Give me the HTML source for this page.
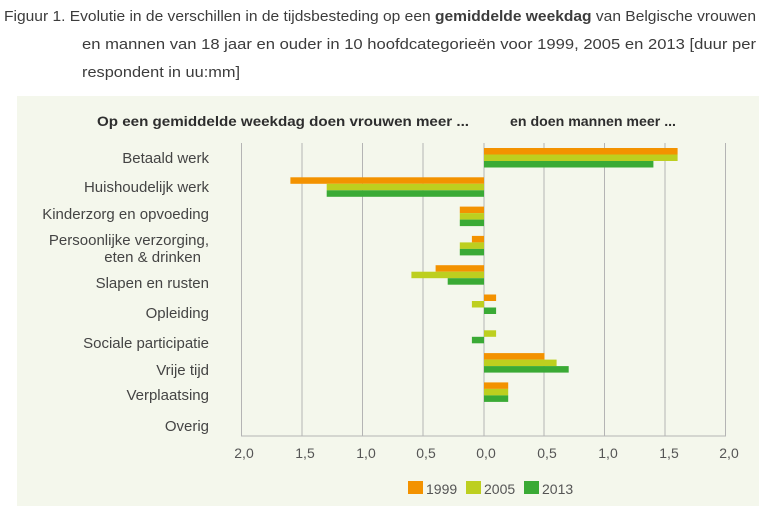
<!DOCTYPE html>
<html><head><meta charset="utf-8"><style>
html,body{margin:0;padding:0;background:#fff;width:776px;height:518px;overflow:hidden}
svg{display:block}
text{font-family:"Liberation Sans Narrow","Liberation Sans",sans-serif}
</style></head><body>
<svg width="776" height="518" viewBox="0 0 776 518">
<g fill="#3c3c3c" font-size="14.5">
<text x="4" y="21" textLength="752" lengthAdjust="spacingAndGlyphs">Figuur 1. Evolutie in de verschillen in de tijdsbesteding op een <tspan font-weight="bold">gemiddelde weekdag</tspan> van Belgische vrouwen</text>
<text x="82" y="49" textLength="674" lengthAdjust="spacingAndGlyphs">en mannen van 18 jaar en ouder in 10 hoofdcategorieën voor 1999, 2005 en 2013 [duur per</text>
<text x="82" y="77" textLength="158" lengthAdjust="spacingAndGlyphs">respondent in uu:mm]</text>
</g>
<rect x="17" y="96" width="742" height="410" fill="#f4f7ec"/>
<g fill="#2e2e2e" font-size="14" font-weight="bold">
<text x="97" y="126" textLength="372" lengthAdjust="spacingAndGlyphs">Op een gemiddelde weekdag doen vrouwen meer ...</text>
<text x="510" y="126" textLength="166" lengthAdjust="spacingAndGlyphs">en doen mannen meer ...</text>
</g>
<g stroke="#b4b4b4" stroke-width="1">
<line x1="241.5" y1="143" x2="241.5" y2="436"/><line x1="302" y1="143" x2="302" y2="436"/><line x1="362.5" y1="143" x2="362.5" y2="436"/><line x1="423" y1="143" x2="423" y2="436"/><line x1="544" y1="143" x2="544" y2="436"/><line x1="604.5" y1="143" x2="604.5" y2="436"/><line x1="665" y1="143" x2="665" y2="436"/><line x1="725.5" y1="143" x2="725.5" y2="436"/>
<line x1="241" y1="436" x2="726" y2="436"/>
<line x1="484" y1="143" x2="484" y2="436"/>
</g>
<g>
<rect x="484" y="148" width="193.6" height="6.5" fill="#f39200"/>
<rect x="484" y="154.5" width="193.6" height="6.5" fill="#bdcf1f"/>
<rect x="484" y="161" width="169.4" height="6.5" fill="#3aaa35"/>
<rect x="290.4" y="177.3" width="193.6" height="6.5" fill="#f39200"/>
<rect x="326.7" y="183.8" width="157.3" height="6.5" fill="#bdcf1f"/>
<rect x="326.7" y="190.3" width="157.3" height="6.5" fill="#3aaa35"/>
<rect x="459.8" y="206.6" width="24.2" height="6.5" fill="#f39200"/>
<rect x="459.8" y="213.1" width="24.2" height="6.5" fill="#bdcf1f"/>
<rect x="459.8" y="219.6" width="24.2" height="6.5" fill="#3aaa35"/>
<rect x="471.9" y="235.9" width="12.1" height="6.5" fill="#f39200"/>
<rect x="459.8" y="242.4" width="24.2" height="6.5" fill="#bdcf1f"/>
<rect x="459.8" y="248.9" width="24.2" height="6.5" fill="#3aaa35"/>
<rect x="435.6" y="265.2" width="48.4" height="6.5" fill="#f39200"/>
<rect x="411.4" y="271.7" width="72.6" height="6.5" fill="#bdcf1f"/>
<rect x="447.7" y="278.2" width="36.3" height="6.5" fill="#3aaa35"/>
<rect x="484" y="294.5" width="12.1" height="6.5" fill="#f39200"/>
<rect x="471.9" y="301" width="12.1" height="6.5" fill="#bdcf1f"/>
<rect x="484" y="307.5" width="12.1" height="6.5" fill="#3aaa35"/>
<rect x="484" y="330.3" width="12.1" height="6.5" fill="#bdcf1f"/>
<rect x="471.9" y="336.8" width="12.1" height="6.5" fill="#3aaa35"/>
<rect x="484" y="353.1" width="60.5" height="6.5" fill="#f39200"/>
<rect x="484" y="359.6" width="72.6" height="6.5" fill="#bdcf1f"/>
<rect x="484" y="366.1" width="84.7" height="6.5" fill="#3aaa35"/>
<rect x="484" y="382.4" width="24.2" height="6.5" fill="#f39200"/>
<rect x="484" y="388.9" width="24.2" height="6.5" fill="#bdcf1f"/>
<rect x="484" y="395.4" width="24.2" height="6.5" fill="#3aaa35"/>
</g>
<g fill="#444" font-size="15" text-anchor="end">
<text x="209" y="163">Betaald werk</text>
<text x="209" y="192">Huishoudelijk werk</text>
<text x="209" y="219">Kinderzorg en opvoeding</text>
<text x="209" y="245">Persoonlijke verzorging,</text>
<text x="201" y="262">eten &amp; drinken</text>
<text x="209" y="288">Slapen en rusten</text>
<text x="209" y="318">Opleiding</text>
<text x="209" y="348">Sociale participatie</text>
<text x="209" y="375">Vrije tijd</text>
<text x="209" y="400">Verplaatsing</text>
<text x="209" y="431">Overig</text>
</g>
<g fill="#555" font-size="14" text-anchor="middle">
<text x="244" y="458">2,0</text><text x="305" y="458">1,5</text><text x="366" y="458">1,0</text><text x="426" y="458">0,5</text><text x="486" y="458">0,0</text><text x="547" y="458">0,5</text><text x="608" y="458">1,0</text><text x="669" y="458">1,5</text><text x="729" y="458">2,0</text>
</g>
<rect x="408" y="481" width="15" height="13" fill="#f39200"/>
<text x="426" y="494" font-size="14" fill="#555">1999</text>
<rect x="466" y="481" width="15" height="13" fill="#bdcf1f"/>
<text x="484" y="494" font-size="14" fill="#555">2005</text>
<rect x="524" y="481" width="15" height="13" fill="#3aaa35"/>
<text x="542" y="494" font-size="14" fill="#555">2013</text>
</svg>
</body></html>
